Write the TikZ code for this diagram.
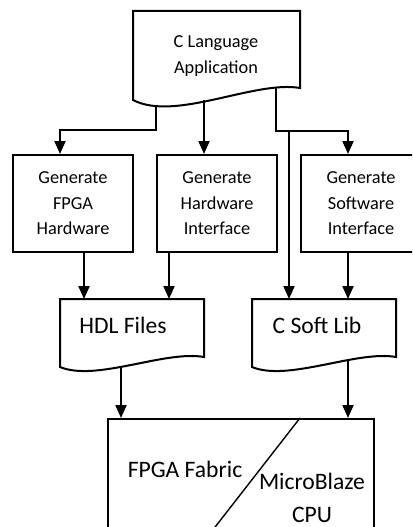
\documentclass[tikz,border=0pt]{standalone}
\usepackage{fontspec}
\setmainfont{Carlito}
\usetikzlibrary{arrows.meta}
\begin{document}
\begin{tikzpicture}[x=1pt,y=-1pt,
  outline/.style={line width=2pt, line join=miter},
  flow/.style={line width=2pt, -{Triangle[length=13pt,width=11pt]}},
  small/.style={font=\fontsize{18.3}{25.5}\selectfont, align=center, inner sep=0pt},
  large/.style={font=\fontsize{23.6}{33}\selectfont, align=center, inner sep=0pt},
  frame/.style={anchor=north west, inner sep=0pt},
  stepbox/.style={frame, draw, line width=2pt, minimum width=120pt, minimum height=97pt, small}
]
\useasboundingbox (0,0) rectangle (412,527);
\clip (0,0) rectangle (412,527);

% document shape: C source
\node[frame, minimum width=167pt, minimum height=89pt] (app) at (133,11) {};
\draw[outline] (133,11) -- (133,100) .. controls (175,122) and (255,80) .. (300,88) -- (300,11) -- cycle;
\node[small] (apptext) at (216,56) {C Language\\Application};

% generator steps
\node[stepbox] (fpga) at (12,154) {Generate\\FPGA\\Hardware};
\node[stepbox] (hwif) at (156,154) {Generate\\Hardware\\Interface};
\node[stepbox] (swif) at (300,154) {Generate\\Software\\Interface};

% output documents
\node[frame, minimum width=144pt, minimum height=58pt] (hdl) at (60,299) {};
\draw[outline] (60,299) -- (60,367) .. controls (96,382) and (165,350) .. (204,357) -- (204,299) -- cycle;
\node[large] (hdltext) at (123,325) {HDL Files};

\node[frame, minimum width=144pt, minimum height=58pt] (softlib) at (252,299) {};
\draw[outline] (252,299) -- (252,367) .. controls (288,382) and (357,350) .. (396,357) -- (396,299) -- cycle;
\node[large] (softtext) at (317,325) {C Soft Lib};

% target platform
\node[frame, draw, line width=2pt, minimum width=266pt, minimum height=150pt] (board) at (107,418) {};
\coordinate (cut) at (300,418);
\draw[line width=1.4pt] (cut) -- (205,540);
\node[large] (fabric) at (185,469) {FPGA Fabric};
\node[large] (cpu) at (312,498) {MicroBlaze\\CPU};

% connectors from the source
\coordinate (appA) at (156,105);
\coordinate (appB) at (204,100);
\coordinate (appC) at (276,88);
\coordinate (j1) at (60,130);
\coordinate (j2) at (348,131);
\coordinate (j3) at (289,131);
\draw[flow] (appA) |- (j1) -- (j1 |- fpga.north);
\draw[flow] (appB) -- (appB |- hwif.north);
\draw[flow] (appC) |- (j2) -- (j2 |- swif.north);
\draw[flow] (j3) -- (j3 |- softlib.north);

% connectors into the outputs
\coordinate (b1) at (84,0);
\coordinate (b2) at (169,0);
\coordinate (b3) at (348,0);
\draw[flow] (b1 |- fpga.south) -- (b1 |- hdl.north);
\draw[flow] (b2 |- hwif.south) -- (b2 |- hdl.north);
\draw[flow] (b3 |- swif.south) -- (b3 |- softlib.north);

% connectors into the platform
\coordinate (hdlOut) at (121,367);
\coordinate (libOut) at (348,360);
\draw[flow] (hdlOut) -- (hdlOut |- board.north);
\draw[flow] (libOut) -- (libOut |- board.north);
\end{tikzpicture}
\end{document}
